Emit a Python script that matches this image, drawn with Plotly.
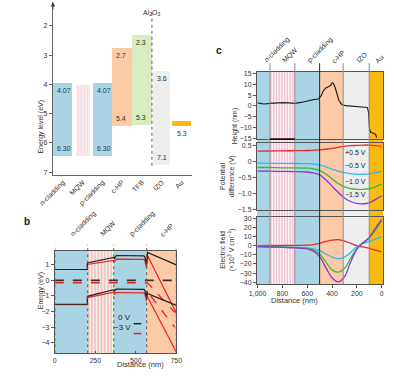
import plotly.graph_objects as go

W, H = 394, 378
FONT = "Liberation Sans, Arial, Helvetica, sans-serif"
TXT = "#333333"


def fx(p):
    return p / W


def fy(p):
    return 1 - p / H


# ---------------- data: panel a (energy levels) ----------------
layers_a = ["n-cladding", "MQW", "p-cladding", "c-HP", "TFB", "IZO", "Au"]
level_top_a = [3.95, 4.02, 3.95, 2.77, 2.30, 3.55, 5.25]
level_bot_a = [6.46, 6.45, 6.46, 5.42, 5.40, 6.76, 5.42]
top_text_a = ["4.07", "", "4.07", "2.7", "2.3", "3.6", ""]
bot_text_a = ["6.30", "", "6.30", "5.4", "5.3", "7.1", "5.3"]
energy_ticks_a = [2, 3, 4, 5, 6, 7]

# ---------------- data: panel b (band diagram) ----------------
regions_b = ["n-cladding", "MQW", "p-cladding", "c-HP"]
bounds_b = [0, 203, 364, 567, 750]
dist_b = [0, 201, 201, 250, 300, 350, 364, 367, 372, 378, 386, 540, 550, 556, 561, 566, 570, 572, 750]
cb_0v = [0.70, 0.70, 1.12, 1.23, 1.33, 1.43, 1.48, 1.38, 1.52, 1.58, 1.60, 1.60, 1.58, 1.50, 1.32, 1.05, 1.45, 1.80, 1.00]
cb_3v = [0.70, 0.70, 1.02, 1.09, 1.16, 1.24, 1.28, 1.18, 1.30, 1.35, 1.37, 1.37, 1.35, 1.27, 1.10, 0.82, 1.25, 1.60, -2.10]
vb_0v = [-1.53, -1.53, -1.02, -0.90, -0.78, -0.66, -0.60, -0.72, -0.60, -0.56, -0.55, -0.55, -0.57, -0.65, -0.82, -1.10, -0.70, -0.84, -1.60]
vb_3v = [-1.56, -1.56, -1.10, -1.00, -0.90, -0.80, -0.76, -0.88, -0.80, -0.78, -0.78, -0.78, -0.80, -0.88, -1.05, -1.32, -0.90, -1.05, -4.60]
fermi_0v_x = [0, 750]
fermi_0v_y = [0, 0]
fermi_3v_x = [0, 570, 590, 740]
fermi_3v_y = [-0.15, -0.15, -0.35, -2.05]
fermi_3v_b_x = [592, 740]
fermi_3v_b_y = [-1.0, -3.0]
energy_ticks_b = [1, 0, -1, -2, -3, -4]
dist_ticks_b = [0, 250, 500, 750]

# ---------------- data: panel c ----------------
regions_c = ["n-cladding", "MQW", "p-cladding", "c-HP", "IZO", "Au"]
bounds_c = [1005, 900, 700, 500, 310, 100, -13]
dist_h = [1000, 950, 900, 850, 800, 750, 700, 650, 600, 550, 510, 490, 470, 450, 430, 410, 400, 390,
          375, 360, 345, 330, 315, 290, 250, 200, 150, 115, 105, 98, 90, 80, 65, 50, 40]
height_c = [1.4, 0.9, 1.2, 1.5, 1.5, 1.4, 1.2, 1.6, 2.4, 2.9, 3.2, 4.5, 7.0, 8.3, 8.8, 9.5, 10.6, 10.4,
            8.5, 5.0, 2.6, 1.2, 0.5, 0.1, -0.1, -0.3, -0.5, -0.7, -3.0, -10.5, -12.0, -12.2, -12.6, -13.0, -14.6]
dist_c = [1000, 900, 800, 700, 600, 550, 500, 450, 400, 350, 300, 250, 200, 150, 100, 50, 0]
bias_labels = ["+0.5 V", "\u22120.5 V", "\u22121.0 V", "\u22121.5 V"]
pot_p05 = [0.31, 0.315, 0.32, 0.325, 0.33, 0.34, 0.35, 0.37, 0.40, 0.43, 0.46, 0.48, 0.49, 0.50, 0.50, 0.48, 0.45]
pot_m05 = [-0.065, -0.07, -0.07, -0.075, -0.08, -0.09, -0.12, -0.18, -0.25, -0.31, -0.36, -0.39, -0.41, -0.41, -0.40, -0.37, -0.32]
pot_m10 = [-0.20, -0.20, -0.21, -0.21, -0.22, -0.24, -0.29, -0.40, -0.55, -0.70, -0.80, -0.86, -0.88, -0.88, -0.86, -0.80, -0.72]
pot_m15 = [-0.31, -0.315, -0.32, -0.325, -0.34, -0.37, -0.43, -0.58, -0.78, -0.98, -1.15, -1.26, -1.32, -1.33, -1.30, -1.20, -1.08]
fld_p05 = [0, 0.1, 0.2, 0.3, 0.5, 1.0, 2.5, 4.5, 6.0, 6.5, 5.0, 2.5, 0, -1.5, -3.0, -5.0, -6.8]
fld_m05 = [-0.5, -1, -1.5, -2, -2.5, -3.5, -5.5, -9, -12.5, -14.2, -12.5, -7.5, -1, 2, 4.5, 7, 9.5]
fld_m10 = [-1, -1.3, -1.6, -2, -3, -4.5, -9, -18, -26.5, -29, -25, -14, -3, 3, 8, 17, 27]
fld_m15 = [-1.2, -1.5, -2, -2.5, -3.5, -6, -12, -24, -35, -39.5, -34, -18, -4, 3, 9, 19, 29]
height_ticks = [15, 10, 5, 0, -5, -10, -15]
pot_ticks = [0.5, 0, -0.5, -1.0, -1.5]
pot_tick_text = ["0.5", "0", "\u22120.5", "\u22121.0", "\u22121.5"]
fld_ticks = [30, 20, 10, 0, -10, -20, -30, -40]
dist_ticks_c = [1000, 800, 600, 400, 200, 0]
dist_tick_text_c = ["1,000", "800", "600", "400", "200", "0"]

# ---------------- styles ----------------
BLUE = "#a9d4e3"
ORANGE = "#fdcaa8"
GREEN = "#d8ebc1"
GREY = "#eeeeee"
GOLD = "#fbba10"
PINK = "#f4bfd1"
fill_a = {"n-cladding": BLUE, "MQW": "#fbf1f3", "p-cladding": BLUE, "c-HP": ORANGE,
          "TFB": GREEN, "IZO": GREY, "Au": GOLD}
width_a = {"n-cladding": 0.96, "MQW": 0.72, "p-cladding": 1.0, "c-HP": 1.0,
           "TFB": 1.0, "IZO": 0.86, "Au": 0.96}
fill_b = {"n-cladding": BLUE, "MQW": "#eef2d6", "p-cladding": BLUE, "c-HP": ORANGE}
fill_c = {"n-cladding": BLUE, "MQW": "#fbf0f3", "p-cladding": BLUE, "c-HP": ORANGE,
          "IZO": GREY, "Au": GOLD}
bias_colors = ["#ee2a2a", "#38b4ea", "#33bb33", "#8a35dc"]

fig = go.Figure()
shapes = []
ann = []


def text(x, y, s, size=7, xref="paper", yref="paper", **kw):
    d = dict(x=x, y=y, text=s, xref=xref, yref=yref, showarrow=False,
             font=dict(family=FONT, size=size, color=kw.pop("color", TXT)))
    d.update(kw)
    ann.append(d)


# ================= panel a =================
xa = list(range(len(layers_a)))
for i, name in enumerate(layers_a):
    mk = dict(color=fill_a[name], line=dict(width=0))
    if name == "MQW":
        mk["pattern"] = dict(shape="|", fgcolor=PINK, bgcolor="#fbf1f3", size=3, solidity=0.5)
    fig.add_trace(go.Bar(x=[xa[i]], y=[level_bot_a[i] - level_top_a[i]], base=[level_top_a[i]],
                         width=width_a[name], marker=mk, xaxis="x", yaxis="y",
                         showlegend=False, hoverinfo="skip"))
    left = xa[i] - width_a[name] / 2
    if top_text_a[i]:
        text(left, level_top_a[i], top_text_a[i], xref="x", yref="y",
             xanchor="left", yanchor="top", xshift=2, yshift=-2)
    if bot_text_a[i]:
        if name == "Au":
            text(xa[i], level_bot_a[i], bot_text_a[i], xref="x", yref="y",
                 xanchor="center", yanchor="top", yshift=-2)
        else:
            text(left, level_bot_a[i], bot_text_a[i], xref="x", yref="y",
                 xanchor="left", yanchor="bottom", xshift=2, yshift=2)

al_x = (layers_a.index("TFB") + layers_a.index("IZO")) / 2
shapes.append(dict(type="line", xref="x", yref="paper", x0=al_x, x1=al_x, y0=fy(166), y1=fy(11),
                   line=dict(color="#777777", width=1.2, dash="dot")))
text(al_x, fy(5), "Al<sub>2</sub>O<sub>3</sub>", size=7, xref="x", yref="paper")
# axis arrow
ann.append(dict(x=fx(41), y=fy(0), xref="paper", yref="paper", ax=0, ay=9, axref="pixel", ayref="pixel",
                showarrow=True, arrowhead=2, arrowsize=0.9, arrowwidth=1, arrowcolor="#444", text=""))
text(fx(22), fy(97), "Energy level (eV)", textangle=-90)

# ================= panel b =================
for i, name in enumerate(regions_b):
    shapes.append(dict(type="rect", xref="x2", yref="y2 domain", x0=bounds_b[i], x1=bounds_b[i + 1],
                       y0=0, y1=1, fillcolor=fill_b[name], line=dict(width=0), layer="below"))
    if name == "MQW":
        s = bounds_b[i]
        while s < bounds_b[i + 1]:
            shapes.append(dict(type="rect", xref="x2", yref="y2 domain", x0=s,
                               x1=min(s + 10, bounds_b[i + 1]), y0=0, y1=1,
                               fillcolor=PINK, line=dict(width=0), layer="below"))
            s += 20
    mid = (bounds_b[i] + bounds_b[i + 1]) / 2
    text(mid, fy(242), name, xref="x2", xanchor="left", yanchor="bottom", textangle=-45, xshift=-5)
for b in bounds_b[1:-1] + [bounds_b[0], bounds_b[-1]]:
    shapes.append(dict(type="line", xref="x2", yref="paper", x0=b, x1=b, y0=fy(356), y1=fy(246),
                       line=dict(color="#555555", width=1, dash="dot")))

fig.add_trace(go.Scatter(x=fermi_0v_x, y=fermi_0v_y, mode="lines", xaxis="x2", yaxis="y2",
                         line=dict(color="#333333", width=1.6, dash="dash"), showlegend=False, hoverinfo="skip"))
for xs, ys in [(fermi_3v_x, fermi_3v_y), (fermi_3v_b_x, fermi_3v_b_y)]:
    fig.add_trace(go.Scatter(x=xs, y=ys, mode="lines", xaxis="x2", yaxis="y2",
                             line=dict(color="#ee2222", width=1.3, dash="dash"), showlegend=False, hoverinfo="skip"))
for ys, col in [(cb_3v, "#ee2222"), (vb_3v, "#ee2222"), (cb_0v, "#222222"), (vb_0v, "#222222")]:
    fig.add_trace(go.Scatter(x=dist_b, y=ys, mode="lines", xaxis="x2", yaxis="y2",
                             line=dict(color=col, width=1.2), showlegend=False, hoverinfo="skip"))

text(fx(125), fy(326), "0 V", size=8, xanchor="right", color="#222")
text(fx(125), fy(336), "\u22123 V", size=8, xanchor="right", color="#222")
shapes.append(dict(type="line", xref="paper", yref="paper", x0=fx(126), x1=fx(134), y0=fy(326), y1=fy(326),
                   line=dict(color="#222", width=1.5)))
shapes.append(dict(type="line", xref="paper", yref="paper", x0=fx(126), x1=fx(134), y0=fy(336), y1=fy(336),
                   line=dict(color="#ee2222", width=1.5)))
text(fx(22), fy(313), "Energy (eV)", textangle=-90)
text(fx(106), fy(373.5), "Distance (nm)", size=7.5)
text(fx(8), fy(222), "<b>b</b>", size=10, color="#111")

# ================= panel c =================
for i, name in enumerate(regions_c):
    shapes.append(dict(type="rect", xref="x5", yref="paper", x0=bounds_c[i], x1=bounds_c[i + 1],
                       y0=fy(286), y1=fy(71), fillcolor=fill_c[name], line=dict(width=0), layer="below"))
    if name == "MQW":
        s = bounds_c[i]
        while s > bounds_c[i + 1]:
            shapes.append(dict(type="rect", xref="x5", yref="paper", x0=s - 3,
                               x1=max(s - 13, bounds_c[i + 1]), y0=fy(286), y1=fy(71),
                               fillcolor=PINK, line=dict(width=0), layer="below"))
            s -= 22
    lo = max(bounds_c[i + 1], 0)
    mid = (min(bounds_c[i], 1000) + lo) / 2
    text(mid, fy(66), name, xref="x5", xanchor="left", yanchor="bottom", textangle=-45, xshift=-4)
for b in bounds_c[1:-1]:
    shapes.append(dict(type="line", xref="x5", yref="paper", x0=b, x1=b, y0=fy(286), y1=fy(62),
                       line=dict(color="#222222" if b == 500 else "#8c8c8c", width=1)))
shapes.append(dict(type="line", xref="x3", yref="paper", x0=bounds_c[1], x1=bounds_c[2],
                   y0=fy(139), y1=fy(139), line=dict(color="#111", width=1.6)))

fig.add_trace(go.Scatter(x=dist_h, y=height_c, mode="lines", xaxis="x3", yaxis="y3",
                         line=dict(color="#222222", width=1.2), showlegend=False, hoverinfo="skip"))
for ys, col in zip([pot_p05, pot_m05, pot_m10, pot_m15], bias_colors):
    fig.add_trace(go.Scatter(x=dist_c, y=ys, mode="lines", xaxis="x4", yaxis="y4",
                             line=dict(color=col, width=1.3, shape="spline"), showlegend=False, hoverinfo="skip"))
for ys, col in zip([fld_p05, fld_m05, fld_m10, fld_m15], bias_colors):
    fig.add_trace(go.Scatter(x=dist_c, y=ys, mode="lines", xaxis="x5", yaxis="y5",
                             line=dict(color=col, width=1.3, shape="spline"), showlegend=False, hoverinfo="skip"))

for lab, yp in zip(bias_labels, [153, 166, 182, 195]):
    text(fx(347), fy(yp), lab, size=7, xanchor="left", color="#222")

text(fx(233), fy(105), "Height (nm)", textangle=-90)
text(fx(225), fy(177), "Potential<br>difference (V)", textangle=-90)
text(fx(225), fy(251), "Electric field<br>(\u00d710<sup>3</sup> V cm<sup>\u22121</sup>)", textangle=-90)
text(fx(322), fy(309), "Distance (nm)", size=7.5)
text(fx(216), fy(42), "<b>c</b>", size=10, color="#111")

# ================= layout =================
tickfont = dict(family=FONT, size=7, color=TXT)
LC = "#555555"
frame = dict(showline=True, linecolor=LC, linewidth=1, mirror=True, zeroline=False, showgrid=False)

layout = dict(
    width=W, height=H, margin=dict(l=0, r=0, t=0, b=0), autosize=False,
    paper_bgcolor="white", plot_bgcolor="rgba(0,0,0,0)", showlegend=False,
    bargap=0, barmode="overlay", font=dict(family=FONT, size=7, color=TXT),
    # panel a
    xaxis=dict(domain=[fx(41), fx(187)], range=[-0.5, len(layers_a) - 0.5], tickvals=xa, ticktext=layers_a,
               tickangle=-45, tickfont=tickfont, showline=True, linecolor="#666", linewidth=1,
               ticks="", zeroline=False, showgrid=False, anchor="y"),
    yaxis=dict(domain=[fy(175), fy(0)], range=[7.09, 1.18], tickvals=energy_ticks_a, tickfont=tickfont,
               ticks="outside", ticklen=3, tickcolor="#666", showline=True, linecolor="#666", linewidth=1,
               zeroline=False, showgrid=False, anchor="x"),
    # panel b
    xaxis2=dict(domain=[fx(43), fx(171)], range=[0, 750], tickvals=dist_ticks_b, tickfont=tickfont,
                ticks="inside", ticklen=2, tickcolor=LC, anchor="y2", **frame),
    yaxis2=dict(domain=[fy(356), fy(252)], range=[-4.68, 1.91], tickvals=energy_ticks_b, tickfont=tickfont,
                ticks="outside", ticklen=3, tickcolor=LC, anchor="x2", **frame),
    # panel c
    xaxis3=dict(domain=[fx(256), fx(389)], range=[1005, -13], showticklabels=False, ticks="",
                anchor="y3", **frame),
    yaxis3=dict(domain=[fy(139), fy(71)], range=[-15.3, 15.6], tickvals=height_ticks, tickfont=tickfont,
                ticks="outside", ticklen=3, tickcolor=LC, anchor="x3", **frame),
    xaxis4=dict(domain=[fx(256), fx(389)], range=[1005, -13], showticklabels=False, ticks="",
                anchor="y4", **frame),
    yaxis4=dict(domain=[fy(211), fy(143.3)], range=[-1.531, 0.552], tickvals=pot_ticks, ticktext=pot_tick_text,
                tickfont=tickfont, ticks="outside", ticklen=3, tickcolor=LC, anchor="x4", **frame),
    xaxis5=dict(domain=[fx(256), fx(389)], range=[1005, -13], tickvals=dist_ticks_c, ticktext=dist_tick_text_c,
                tickfont=tickfont, ticks="outside", ticklen=3, tickcolor=LC, anchor="y5", **frame),
    yaxis5=dict(domain=[fy(285.7), fy(217.7)], range=[-41.8, 31.4], tickvals=fld_ticks, tickfont=tickfont,
                ticks="outside", ticklen=3, tickcolor=LC, anchor="x5", **frame),
    shapes=shapes, annotations=ann,
)
fig.update_layout(**layout)
fig.write_html("out.html", config={"displayModeBar": False},
               post_script="document.body.style.margin='0px';document.body.style.padding='0px';")
